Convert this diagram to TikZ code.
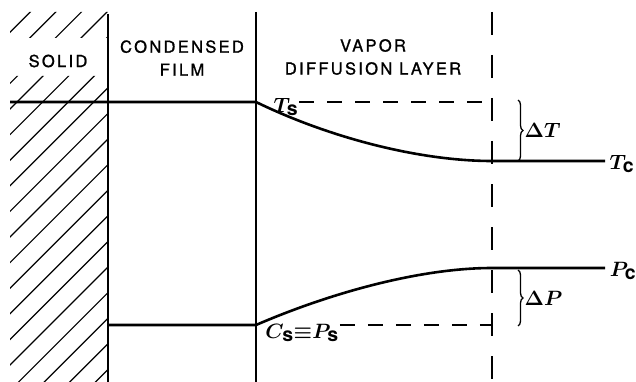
\documentclass[tikz,border=0pt]{standalone}
\usepackage{fontspec}
\setsansfont{TeX Gyre Heros}
\newfontfamily\zoneFont[LetterSpace=14,FakeBold=1.2]{TeX Gyre Heros}
\usetikzlibrary{calc,decorations.pathreplacing}

\begin{document}
\begin{tikzpicture}[
  x=1pt, y=-1pt,
  zone/.style={font=\zoneFont\fontsize{16.5}{23}\selectfont, align=center, inner sep=0pt},
  qty/.style={font=\fontsize{19.5}{21}\selectfont\boldmath, inner sep=1pt},
  boundary/.style={line width=1.9pt},
  interface/.style={line width=1.5pt},
  profile/.style={line width=2.6pt},
  edge/.style={line width=1.5pt, dash pattern=on 23pt off 20pt},
  guide/.style={line width=1.3pt, dash pattern=on 15pt off 13pt},
  hatch/.style={line width=1.2pt},
  gap/.style={decorate, decoration={brace, amplitude=5pt}, line width=1.3pt}
]
  \useasboundingbox (0,0) rectangle (636,382);

  % layer boundaries
  \coordinate (wallTop) at (108,14);
  \coordinate (wallBot) at (108,382);
  \coordinate (filmTop) at (256,12);
  \coordinate (filmBot) at (256,382);
  \coordinate (edgeTop) at (492,12);
  \coordinate (edgeBot) at (492,382);

  % profile points
  \coordinate (tStart) at (10,102);
  \coordinate (ts) at (256,102);
  \coordinate (tc) at (492,161);
  \coordinate (tEnd) at (605,161);
  \coordinate (pStart) at (108,325);
  \coordinate (ps) at (256,325);
  \coordinate (pc) at (492,268);
  \coordinate (pEnd) at (605,268);

  % solid hatching
  \begin{scope}
    \clip (10,12) rectangle (108,38) (10,76) rectangle (108,382);
    \foreach \k in {-9,...,10} {
      \pgfmathsetmacro\c{247+25.6*\k}
      \draw[hatch] (\c-400,400) -- (\c,0);
    }
  \end{scope}

  \draw[boundary] (wallTop) -- (wallBot);
  \draw[interface] (filmTop) -- (filmBot);
  \draw[edge] (edgeTop) -- (edgeBot);

  \node[zone] (solid) at (58,61) {SOLID};
  \node[zone] (film) at (182,58) {CONDENSED\\FILM};
  \node[zone] (vapor) at (373,57) {VAPOR\\DIFFUSION LAYER};

  % temperature and pressure profiles
  \draw[profile] (tStart) -- (ts) .. controls (330,138) and (420,161) .. (tc) -- (tEnd);
  \draw[profile] (pStart) -- (ps) .. controls (330,293) and (420,268) .. (pc) -- (pEnd);

  \node[qty] (tsLabel) at (286,107) {$T_{\textbf{\textsf{s}}}$};
  \node[qty] (tcLabel) at (622,164) {$T_{\textbf{\textsf{c}}}$};
  \node[qty] (pcLabel) at (623,271) {$P_{\textbf{\textsf{c}}}$};
  \node[qty] (csLabel) at (302,333) {$C_{\textbf{\textsf{s}}}{\equiv}P_{\textbf{\textsf{s}}}$};

  \draw[guide] (tsLabel.east |- ts) -- (ts -| edgeTop);
  \draw[guide] (csLabel.east |- ps) -- (ps -| edgeTop);

  \draw[gap] (518,100) -- (518,161) node[qty, midway, right=5pt] (dT) {$\Delta T$};
  \draw[gap] (518,270) -- (518,326) node[qty, midway, right=5pt] (dP) {$\Delta P$};
\end{tikzpicture}
\end{document}
